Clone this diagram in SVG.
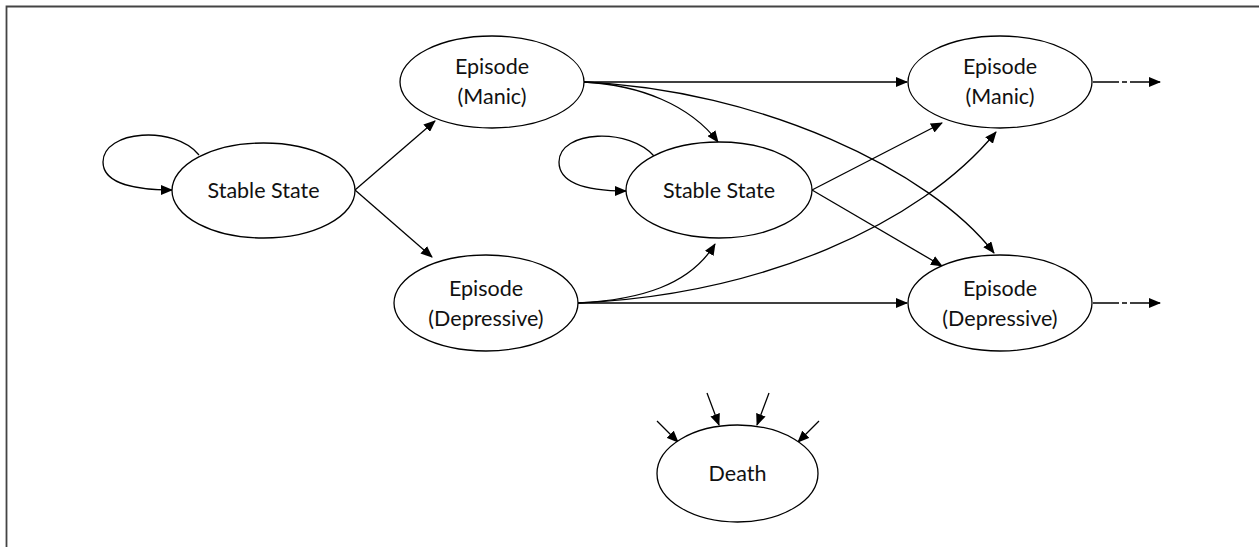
<svg xmlns="http://www.w3.org/2000/svg" width="1259" height="547" viewBox="0 0 1259 547">
<style>
.node ellipse{fill:#fff;stroke:#000;stroke-width:1.3}
.node text{font-family:Lato,"Open Sans","Liberation Sans",sans-serif;font-size:21.5px;fill:#111;text-anchor:middle}
.edges path,.edges line{fill:none;stroke:#000;stroke-width:1.3}
.frame{stroke:#444;stroke-width:1.8;fill:none}
</style>
<defs>
<marker id="ah" markerWidth="12" markerHeight="10" refX="11" refY="5" orient="auto" markerUnits="userSpaceOnUse">
<path d="M0,0 L12,5 L0,10 Z" fill="#000"/>
</marker>
</defs>
<rect width="1259" height="547" fill="#fff"/>
<path class="frame" d="M6.5,547 L6.5,6.5 L1259,6.5"/>
<g class="edges">
<path d="M199,155 C175,125 103,130 103,162 C103,185 140,190 172,190" marker-end="url(#ah)"/>
<path d="M655,157 C630,127 559,130 559,162 C559,186 595,191 626,191" marker-end="url(#ah)"/>
<line x1="355" y1="190" x2="435" y2="121" marker-end="url(#ah)"/>
<line x1="355" y1="190" x2="432" y2="257" marker-end="url(#ah)"/>
<path d="M584,82 C640,85 690,105 718,142" marker-end="url(#ah)"/>
<line x1="584" y1="82" x2="907" y2="82" marker-end="url(#ah)"/>
<path d="M584,82 C760,90 930,170 994,253" marker-end="url(#ah)"/>
<line x1="812" y1="190" x2="942" y2="123" marker-end="url(#ah)"/>
<line x1="812" y1="190" x2="942" y2="266" marker-end="url(#ah)"/>
<path d="M578,303 C640,300 690,285 715,244" marker-end="url(#ah)"/>
<path d="M578,303 C760,295 920,225 996,132" marker-end="url(#ah)"/>
<line x1="578" y1="303" x2="907" y2="303" marker-end="url(#ah)"/>
<line x1="1093" y1="82" x2="1160" y2="82" stroke-dasharray="26,3,5,3,100" marker-end="url(#ah)"/>
<line x1="1093" y1="303" x2="1160" y2="303" stroke-dasharray="26,3,5,3,100" marker-end="url(#ah)"/>
<line x1="657" y1="421" x2="678" y2="442" marker-end="url(#ah)"/>
<line x1="707" y1="393" x2="719" y2="425" marker-end="url(#ah)"/>
<line x1="769" y1="393" x2="757" y2="425" marker-end="url(#ah)"/>
<line x1="819" y1="421" x2="798" y2="442" marker-end="url(#ah)"/>
</g>
<g id="stable1" class="node"><ellipse cx="263.5" cy="190.5" rx="91.5" ry="47.5"/><text x="263.5" y="198">Stable State</text></g>
<g id="manic1" class="node"><ellipse cx="492" cy="82" rx="92" ry="46"/><text x="492" y="74">Episode</text><text x="492" y="104">(Manic)</text></g>
<g id="depressive1" class="node"><ellipse cx="486" cy="303" rx="92" ry="48"/><text x="486" y="296">Episode</text><text x="486" y="326">(Depressive)</text></g>
<g id="stable2" class="node"><ellipse cx="719" cy="190" rx="93" ry="48"/><text x="719" y="198">Stable State</text></g>
<g id="manic2" class="node"><ellipse cx="1000" cy="82" rx="92" ry="46"/><text x="1000" y="74">Episode</text><text x="1000" y="104">(Manic)</text></g>
<g id="depressive2" class="node"><ellipse cx="1000" cy="303" rx="92" ry="48"/><text x="1000" y="296">Episode</text><text x="1000" y="326">(Depressive)</text></g>
<g id="death" class="node"><ellipse cx="737.5" cy="473.5" rx="80.5" ry="48.5"/><text x="737.5" y="481">Death</text></g>
</svg>
